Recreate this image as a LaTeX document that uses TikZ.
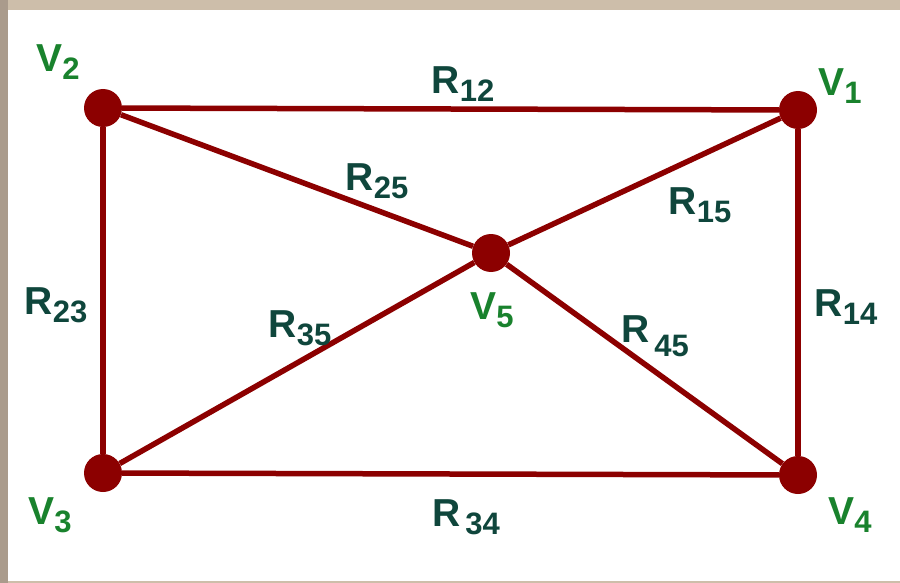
\documentclass[tikz,border=0pt]{standalone}
\usepackage{fontspec}
\setmainfont{Liberation Sans}
\definecolor{edgered}{RGB}{140,0,0}
\definecolor{vgreen}{RGB}{25,130,45}
\definecolor{rteal}{RGB}{15,70,60}
\definecolor{frameL}{RGB}{170,155,140}
\definecolor{frameT}{RGB}{205,190,170}
\newcommand{\mylbl}[3][8pt]{#2\raisebox{-#1}{\fontsize{31}{31}\selectfont #3}}
\begin{document}
\begin{tikzpicture}[x=1pt,y=-1pt,
  vert/.style={circle,fill=edgered,minimum size=38pt,inner sep=0pt},
  wire/.style={draw=edgered,line width=5.5pt},
  vlab/.style={text=vgreen,font=\fontsize{39}{39}\selectfont\bfseries,inner sep=0pt},
  rlab/.style={text=rteal,font=\fontsize{39}{39}\selectfont\bfseries,inner sep=0pt}]
\useasboundingbox (0,0) rectangle (900,583);
\fill[frameT] (0,0) rectangle (900,583);
\fill[frameL] (0,0) rectangle (8,583);
\fill[white] (8,10) rectangle (900,581);
\node[vert] (v2) at (103,108) {};
\node[vert] (v1) at (798,110) {};
\node[vert] (v3) at (103,473) {};
\node[vert] (v4) at (798,475) {};
\node[vert] (v5) at (491,253) {};
\draw[wire] (v2) -- (v1);
\draw[wire] (v2) -- (v3);
\draw[wire] (v1) -- (v4);
\draw[wire] (v3) -- (v4);
\draw[wire] (v2) -- (v5);
\draw[wire] (v5) -- (v4);
\draw[wire] (v3) -- (v5);
\draw[wire] (v5) -- (v1);
\node[vlab] (l2) at (58,62) {\mylbl{V}{2}};
\node[vlab] (l1) at (840,86) {\mylbl{V}{1}};
\node[vlab] (l3) at (50,515) {\mylbl{V}{3}};
\node[vlab] (l4) at (850,515) {\mylbl{V}{4}};
\node[vlab] (l5) at (492,310) {\mylbl{V}{5}};
\node[rlab] (r12) at (463,84) {\mylbl{R}{12}};
\node[rlab] (r25) at (377,181) {\mylbl{R}{25}};
\node[rlab] (r15) at (700,205) {\mylbl{R}{15}};
\node[rlab] (r23) at (56,305) {\mylbl{R}{23}};
\node[rlab] (r35) at (300,328) {\mylbl{R}{35}};
\node[rlab] (r45) at (655,336) {\mylbl[14pt]{R}{\,45}};
\node[rlab] (r14) at (846,307) {\mylbl{R}{14}};
\node[rlab] (r34) at (466,517) {\mylbl{R}{\,34}};
\end{tikzpicture}
\end{document}
